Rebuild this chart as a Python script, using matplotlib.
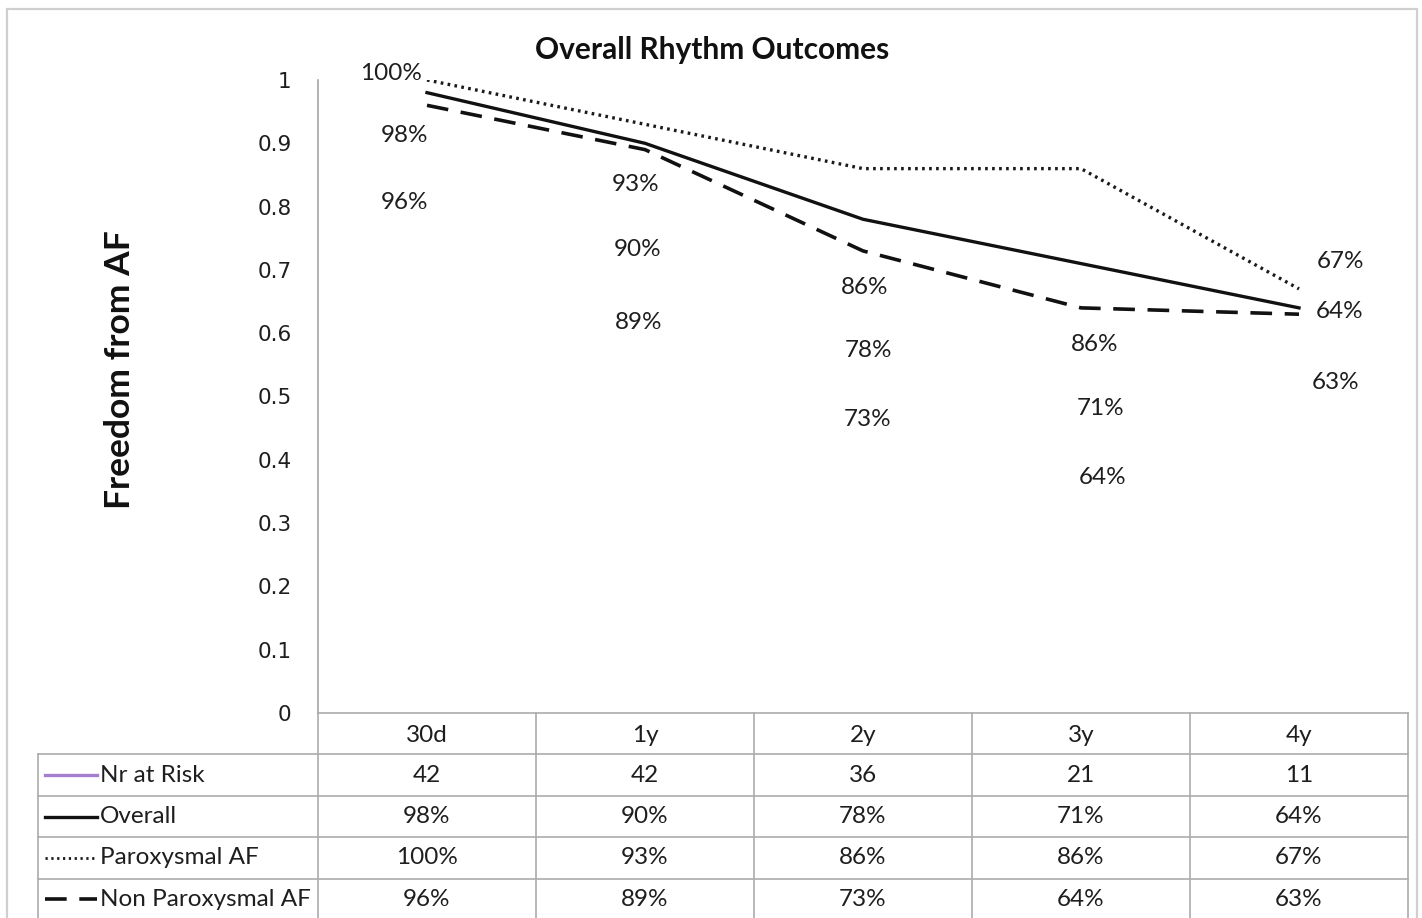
import numpy as np
import matplotlib.pyplot as plt
from matplotlib.patches import Rectangle
from matplotlib.lines import Line2D

plt.rcParams['font.family'] = ['Lato', 'DejaVu Sans']

# data
periods = ['30d', '1y', '2y', '3y', '4y']
nr_at_risk = [42, 42, 36, 21, 11]
overall = [98, 90, 78, 71, 64]
paroxysmal = [100, 93, 86, 86, 67]
non_paroxysmal = [96, 89, 73, 64, 63]

# label offsets (pixels) from each point, mimicking Excel's placement
par_off = [(-36, 7), (-9, -60), (2, -119), (14, -176), (41, 27)]
ovr_off = [(-23, -43), (-7, -106), (6, -131), (20, -145), (41, -4)]
non_off = [(-23, -97), (-6, -173), (5, -169), (22, -170), (37, -68)]

W, H = 1422, 918
fig = plt.figure(figsize=(W / 100, H / 100), dpi=100)

# outer chart border
fig.patches.append(Rectangle((7 / W, -0.01), 1410 / W, (H - 9) / H + 0.01, transform=fig.transFigure,
                             fill=False, edgecolor='#cfcfcf', linewidth=1.6))

txt = '#1e1e1e'
x = np.arange(len(periods))
left, right = 318, 1408
top, bottom = 80, 713
ax = fig.add_axes([left / W, (H - bottom) / H, (right - left) / W, (bottom - top) / H])
ax.set_xlim(-0.5, len(periods) - 0.5)
ax.set_ylim(0, 1)

dotted = (0, (0.8, 1.3))
dashed = (0, (6, 3.5))
ax.plot(x, np.array(paroxysmal) / 100, color='#1a1a1a', lw=2.4, ls=dotted)
ax.plot(x, np.array(overall) / 100, color='#111111', lw=2.4, ls='-')
ax.plot(x, np.array(non_paroxysmal) / 100, color='#111111', lw=2.6, ls=dashed)

for vals, offs in [(paroxysmal, par_off), (overall, ovr_off), (non_paroxysmal, non_off)]:
    for i, (v, (dx, dy)) in enumerate(zip(vals, offs)):
        ax.annotate(f'{v}%', (x[i], v / 100), xytext=(dx, dy), textcoords='offset pixels',
                    ha='center', va='center', fontsize=17.5, color=txt)

ax.set_yticks(np.arange(0, 1.01, 0.1))
ax.set_yticklabels(['0'] + [f'{t:.1f}' for t in np.arange(0.1, 0.95, 0.1)] + ['1'],
                   family='DejaVu Sans', fontsize=15.5, color=txt)
ax.tick_params(axis='y', length=0, pad=19)
ax.set_xticks([])
for s in ['top', 'right', 'bottom']:
    ax.spines[s].set_visible(False)
ax.spines['left'].set_color('#a6a6a6')
ax.spines['left'].set_linewidth(1.2)

fig.text(712 / W, 1 - 50 / H, 'Overall Rhythm Outcomes', ha='center', va='center',
         fontsize=21.5, fontweight='bold', color='#111111')
fig.text(120 / W, 1 - 370 / H, 'Freedom from AF', rotation=90, ha='center', va='center',
         fontsize=25.5, fontweight='bold', color='#111111')

# data table under the plot
tleft = 38
row_h = 41.4
tab = fig.add_axes([tleft / W, 0, (right - tleft) / W, (H - bottom) / H])
unit = (right - left) / len(periods)
x0 = -0.5 - (left - tleft) / unit
tab.set_xlim(x0, len(periods) - 0.5)
tab.set_ylim((H - bottom) / row_h, 0)
tab.axis('off')

gc = '#ababab'
nrows = 5
tab.plot([-0.5, 4.5], [0, 0], color=gc, lw=1.2, clip_on=False)
for r in range(1, nrows + 1):
    tab.plot([x0, 4.5], [r, r], color=gc, lw=1.2, clip_on=False)
tab.plot([x0, x0], [1, nrows], color=gc, lw=1.2, clip_on=False)
for xv in np.arange(-0.5, 4.6, 1.0):
    tab.plot([xv, xv], [0, nrows], color=gc, lw=1.2, clip_on=False)

fs = 17.5
for i, p in enumerate(periods):
    tab.text(i, 0.55, p, ha='center', va='center', fontsize=fs, color=txt)

rows = [
    ('Nr at Risk', [str(v) for v in nr_at_risk], dict(color='#a57fcf', lw=2.4, ls='-')),
    ('Overall', [f'{v}%' for v in overall], dict(color='#111111', lw=2.4, ls='-')),
    ('Paroxysmal AF', [f'{v}%' for v in paroxysmal], dict(color='#1a1a1a', lw=2.0, ls=dotted)),
    ('Non Paroxysmal AF', [f'{v}%' for v in non_paroxysmal], dict(color='#111111', lw=2.6, ls=dashed)),
]
kx0 = -0.5 - (left - 45) / unit
kx1 = -0.5 - (left - 97) / unit
tx = -0.5 - (left - 100) / unit
for r, (name, vals, style) in enumerate(rows, start=1):
    yc = r + 0.5
    tab.add_line(Line2D([kx0, kx1], [yc, yc], **style))
    tab.text(tx, yc, name, ha='left', va='center', fontsize=fs, color=txt)
    for i, v in enumerate(vals):
        tab.text(i, yc, v, ha='center', va='center', fontsize=fs, color=txt)

fig.savefig('out.png', dpi=100)
